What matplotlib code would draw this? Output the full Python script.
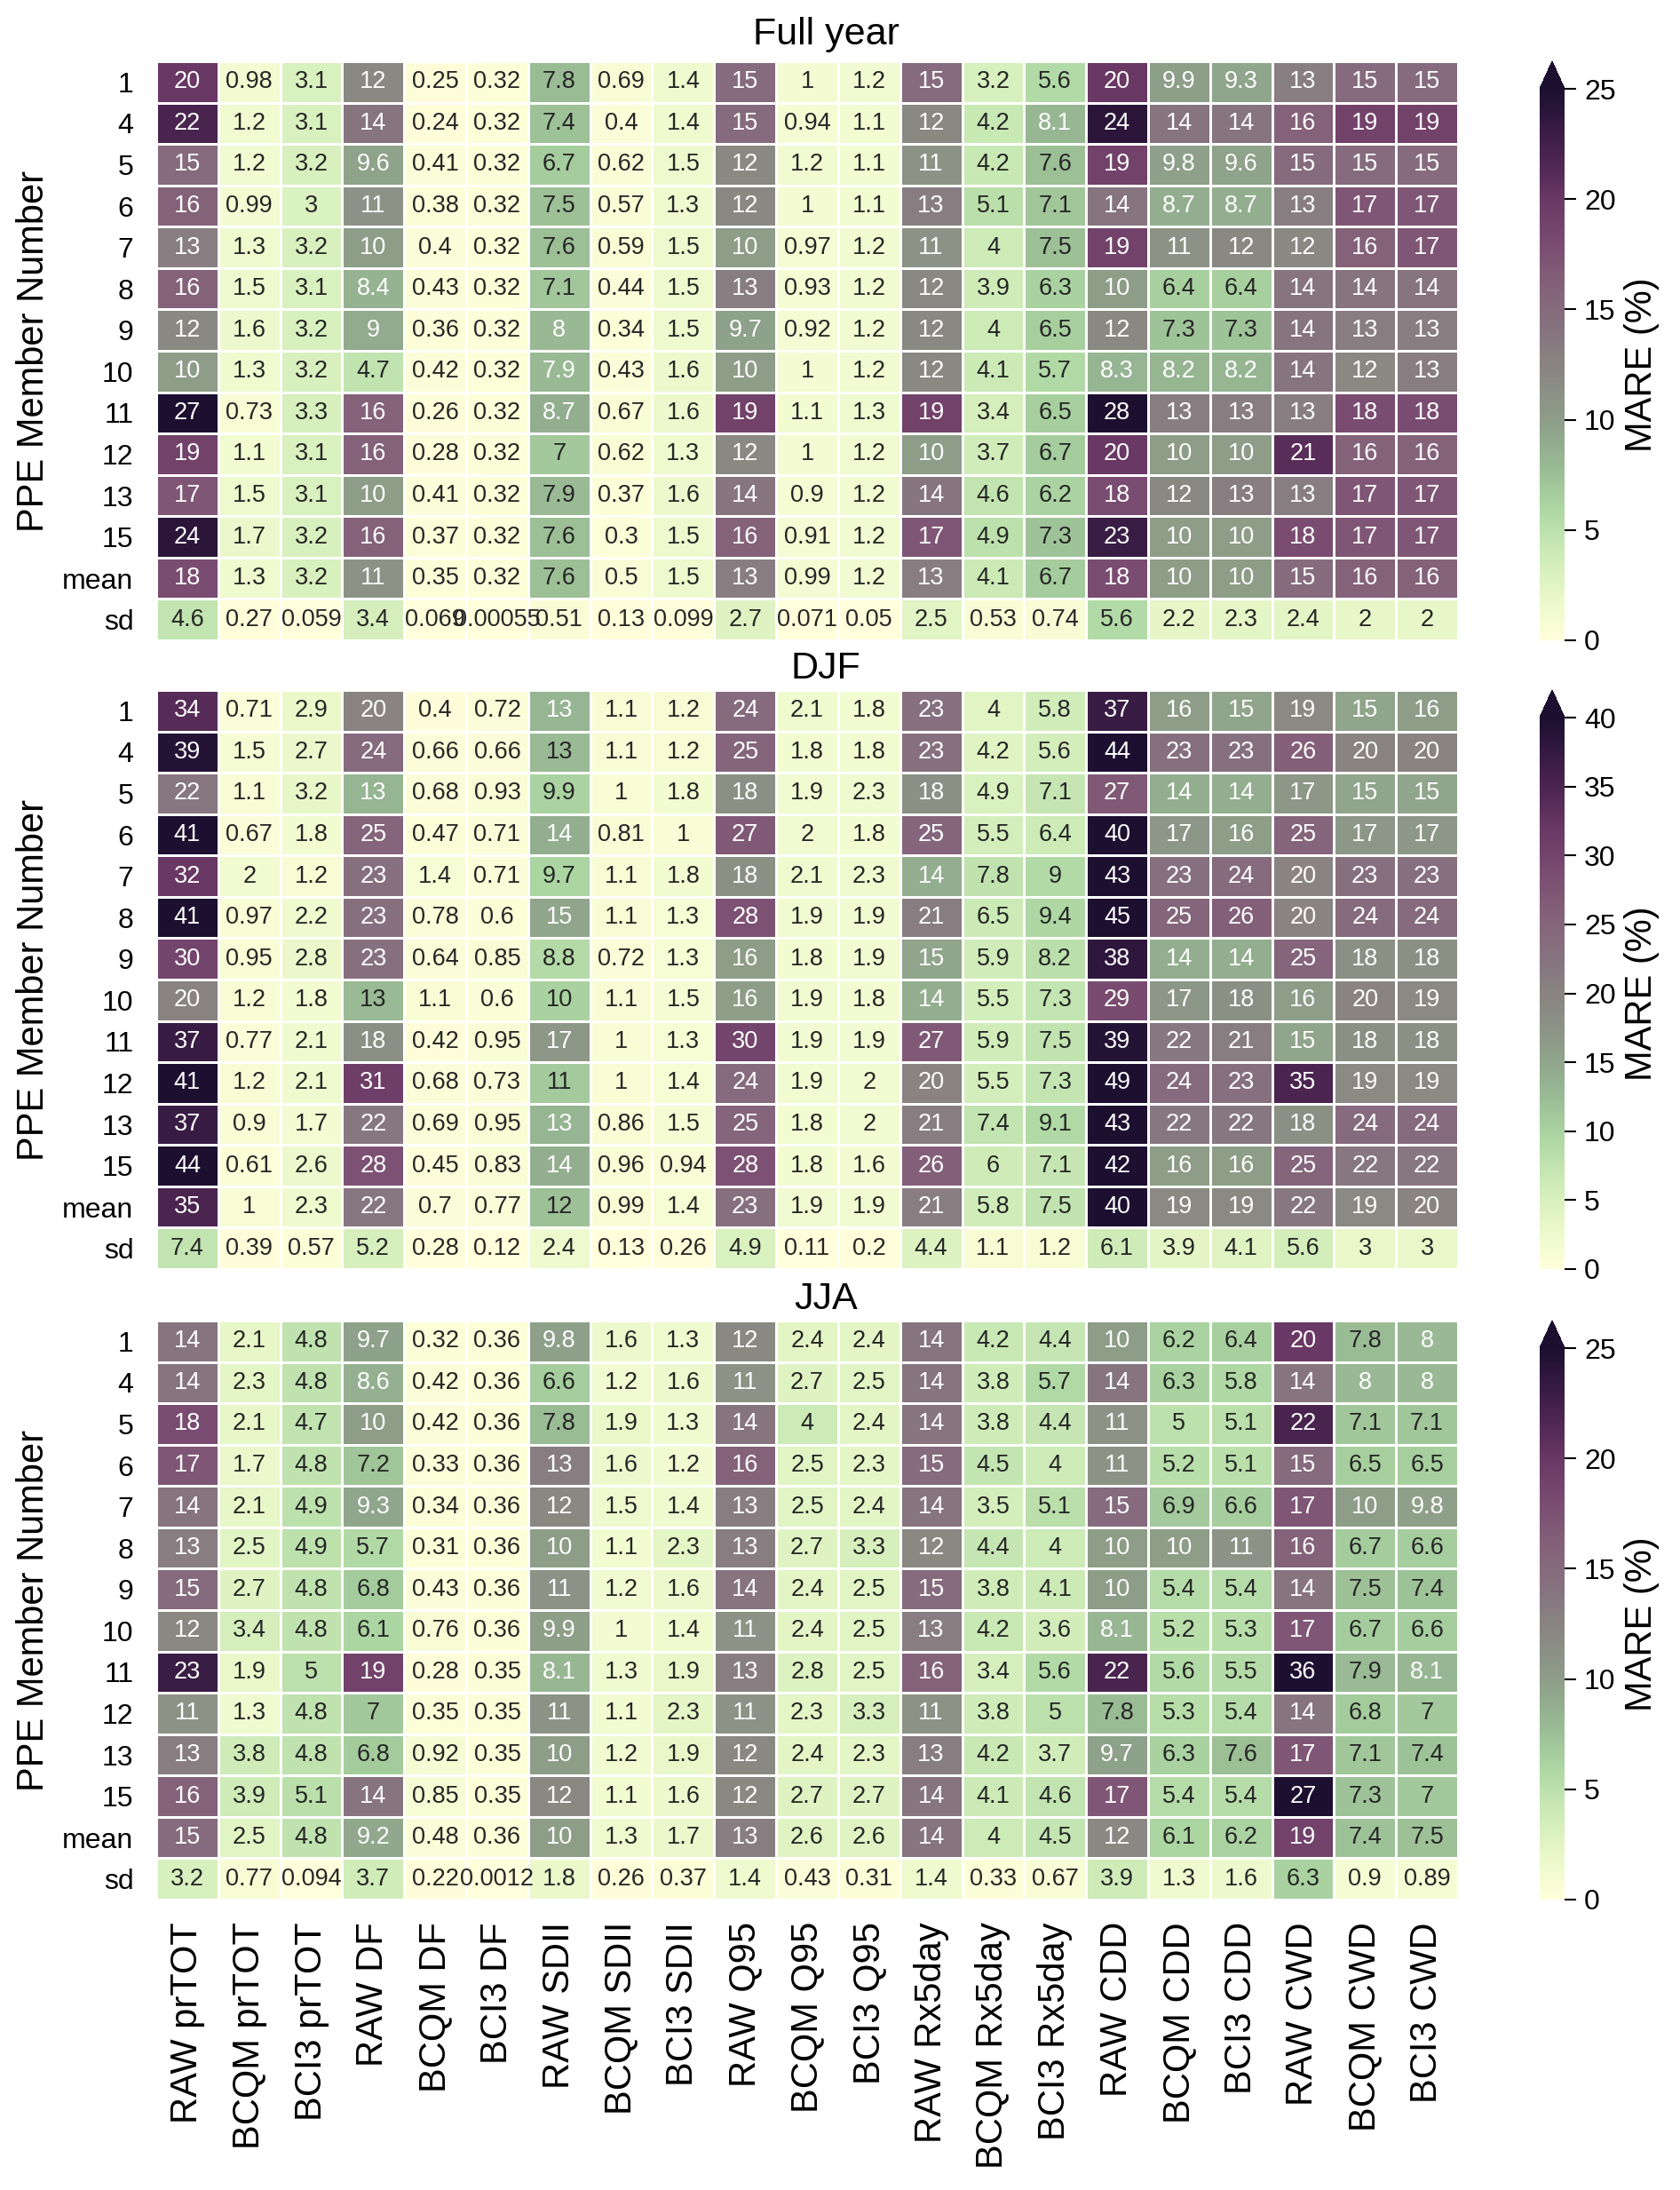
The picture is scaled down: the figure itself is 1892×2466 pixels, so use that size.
import numpy as np
import matplotlib
matplotlib.use("Agg")
import matplotlib.pyplot as plt
from matplotlib.colors import LinearSegmentedColormap, Normalize

plt.rcParams['font.family'] = ['Liberation Sans', 'DejaVu Sans']

rows = ["1", "4", "5", "6", "7", "8", "9", "10", "11", "12", "13", "15", "mean", "sd"]
cols = ["RAW prTOT", "BCQM prTOT", "BCI3 prTOT", "RAW DF", "BCQM DF", "BCI3 DF",
        "RAW SDII", "BCQM SDII", "BCI3 SDII", "RAW Q95", "BCQM Q95", "BCI3 Q95",
        "RAW Rx5day", "BCQM Rx5day", "BCI3 Rx5day", "RAW CDD", "BCQM CDD", "BCI3 CDD",
        "RAW CWD", "BCQM CWD", "BCI3 CWD"]

full_year = [
    [20, 0.98, 3.1, 12, 0.25, 0.32, 7.8, 0.69, 1.4, 15, 1, 1.2, 15, 3.2, 5.6, 20, 9.9, 9.3, 13, 15, 15],
    [22, 1.2, 3.1, 14, 0.24, 0.32, 7.4, 0.4, 1.4, 15, 0.94, 1.1, 12, 4.2, 8.1, 24, 14, 14, 16, 19, 19],
    [15, 1.2, 3.2, 9.6, 0.41, 0.32, 6.7, 0.62, 1.5, 12, 1.2, 1.1, 11, 4.2, 7.6, 19, 9.8, 9.6, 15, 15, 15],
    [16, 0.99, 3, 11, 0.38, 0.32, 7.5, 0.57, 1.3, 12, 1, 1.1, 13, 5.1, 7.1, 14, 8.7, 8.7, 13, 17, 17],
    [13, 1.3, 3.2, 10, 0.4, 0.32, 7.6, 0.59, 1.5, 10, 0.97, 1.2, 11, 4, 7.5, 19, 11, 12, 12, 16, 17],
    [16, 1.5, 3.1, 8.4, 0.43, 0.32, 7.1, 0.44, 1.5, 13, 0.93, 1.2, 12, 3.9, 6.3, 10, 6.4, 6.4, 14, 14, 14],
    [12, 1.6, 3.2, 9, 0.36, 0.32, 8, 0.34, 1.5, 9.7, 0.92, 1.2, 12, 4, 6.5, 12, 7.3, 7.3, 14, 13, 13],
    [10, 1.3, 3.2, 4.7, 0.42, 0.32, 7.94, 0.43, 1.6, 10, 1, 1.2, 12, 4.1, 5.7, 8.3, 8.2, 8.2, 14, 12, 13],
    [27, 0.73, 3.3, 16, 0.26, 0.32, 8.7, 0.67, 1.6, 19, 1.1, 1.3, 19, 3.4, 6.5, 28, 13, 13, 13, 18, 18],
    [19, 1.1, 3.1, 16, 0.28, 0.32, 7, 0.62, 1.3, 12, 1, 1.2, 10, 3.7, 6.7, 20, 10, 10, 21, 16, 16],
    [17, 1.5, 3.1, 10, 0.41, 0.32, 7.86, 0.37, 1.6, 14, 0.9, 1.2, 14, 4.6, 6.2, 18, 12, 13, 13, 17, 17],
    [24, 1.7, 3.2, 16, 0.37, 0.32, 7.6, 0.3, 1.5, 16, 0.91, 1.2, 17, 4.9, 7.3, 23, 10, 10, 18, 17, 17],
    [18, 1.3, 3.2, 11, 0.35, 0.32, 7.6, 0.5, 1.5, 13, 0.99, 1.2, 13, 4.1, 6.7, 18, 10, 10, 15, 16, 16],
    [4.6, 0.27, 0.059, 3.4, 0.069, 0.00055, 0.51, 0.13, 0.099, 2.7, 0.071, 0.05, 2.5, 0.53, 0.74, 5.6, 2.2, 2.3, 2.4, 2, 2],
]

djf = [
    [34, 0.71, 2.9, 20, 0.4, 0.72, 13.2, 1.1, 1.2, 24, 2.1, 1.8, 23, 4, 5.8, 37, 16, 15, 19, 15, 16],
    [39, 1.5, 2.7, 24, 0.66, 0.66, 12.6, 1.1, 1.2, 25, 1.8, 1.8, 23, 4.2, 5.6, 44, 23, 23, 26, 20, 20],
    [22, 1.1, 3.2, 13.2, 0.68, 0.93, 9.9, 1, 1.8, 18, 1.9, 2.3, 18, 4.9, 7.1, 27, 14, 14, 17, 15, 15],
    [41, 0.67, 1.8, 25, 0.47, 0.71, 14, 0.81, 1, 27, 2, 1.8, 25, 5.5, 6.4, 40, 17, 16, 25, 17, 17],
    [32, 2, 1.2, 23, 1.4, 0.71, 9.7, 1.1, 1.8, 18, 2.1, 2.3, 14, 7.8, 9, 43, 23, 24, 20, 23, 23],
    [41, 0.97, 2.2, 23, 0.78, 0.6, 15, 1.1, 1.3, 28, 1.9, 1.9, 21, 6.5, 9.4, 45, 25, 26, 20, 24, 24],
    [30, 0.95, 2.8, 23, 0.64, 0.85, 8.8, 0.72, 1.3, 16, 1.8, 1.9, 15, 5.9, 8.2, 38, 14, 14, 25, 18, 18],
    [20, 1.2, 1.8, 12.6, 1.1, 0.6, 10, 1.1, 1.5, 16, 1.9, 1.8, 14, 5.5, 7.3, 29, 17, 18, 16, 20, 19],
    [37, 0.77, 2.1, 18, 0.42, 0.95, 17, 1, 1.3, 30, 1.9, 1.9, 27, 5.9, 7.5, 39, 22, 21, 15, 18, 18],
    [41, 1.2, 2.1, 31, 0.68, 0.73, 11, 1, 1.4, 24, 1.9, 2, 20, 5.5, 7.3, 49, 24, 23, 35, 19, 19],
    [37, 0.9, 1.7, 22, 0.69, 0.95, 13.2, 0.86, 1.5, 25, 1.8, 2, 21, 7.4, 9.1, 43, 22, 22, 18, 24, 24],
    [44, 0.61, 2.6, 28, 0.45, 0.83, 14, 0.96, 0.94, 28, 1.8, 1.6, 26, 6, 7.1, 42, 16, 16, 25, 22, 22],
    [35, 1, 2.3, 22, 0.7, 0.77, 12, 0.99, 1.4, 23, 1.9, 1.9, 21, 5.8, 7.5, 40, 19, 19, 22, 19, 20],
    [7.4, 0.39, 0.57, 5.2, 0.28, 0.12, 2.4, 0.13, 0.26, 4.9, 0.11, 0.2, 4.4, 1.1, 1.2, 6.1, 3.9, 4.1, 5.6, 3, 3],
]

jja = [
    [14, 2.1, 4.8, 9.7, 0.32, 0.36, 9.8, 1.6, 1.3, 12, 2.4, 2.4, 14, 4.2, 4.4, 10, 6.2, 6.4, 20, 7.8, 8],
    [14, 2.3, 4.8, 8.6, 0.42, 0.36, 6.6, 1.2, 1.6, 11, 2.7, 2.5, 14, 3.8, 5.7, 14, 6.3, 5.8, 14, 8, 8],
    [18, 2.1, 4.7, 10, 0.42, 0.36, 7.8, 1.9, 1.3, 14, 4, 2.4, 14, 3.8, 4.4, 11, 5, 5.1, 22, 7.1, 7.1],
    [17, 1.7, 4.8, 7.2, 0.33, 0.36, 13, 1.6, 1.2, 16, 2.5, 2.3, 15, 4.5, 4, 11, 5.2, 5.1, 15, 6.5, 6.5],
    [14, 2.1, 4.9, 9.3, 0.34, 0.36, 12, 1.5, 1.4, 13, 2.5, 2.4, 14, 3.5, 5.1, 15, 6.9, 6.6, 17, 10, 9.8],
    [13, 2.5, 4.9, 5.7, 0.31, 0.36, 10, 1.1, 2.3, 13, 2.7, 3.3, 12, 4.4, 4, 10, 10, 11, 16, 6.7, 6.6],
    [15, 2.7, 4.8, 6.8, 0.43, 0.36, 11, 1.2, 1.6, 14, 2.4, 2.5, 15, 3.8, 4.1, 10, 5.4, 5.4, 14, 7.5, 7.4],
    [12, 3.4, 4.8, 6.1, 0.76, 0.36, 9.9, 1, 1.4, 11, 2.4, 2.5, 13, 4.2, 3.6, 8.1, 5.2, 5.3, 17, 6.7, 6.6],
    [23, 1.9, 5, 19, 0.28, 0.35, 8.1, 1.3, 1.9, 13, 2.8, 2.5, 16, 3.4, 5.6, 22, 5.6, 5.5, 36, 7.9, 8.1],
    [11, 1.3, 4.8, 7, 0.35, 0.35, 11, 1.1, 2.3, 11, 2.3, 3.3, 11, 3.8, 5, 7.8, 5.3, 5.4, 14, 6.8, 7],
    [13, 3.8, 4.8, 6.8, 0.92, 0.35, 10, 1.2, 1.9, 12, 2.4, 2.3, 13, 4.2, 3.7, 9.7, 6.3, 7.6, 17, 7.1, 7.4],
    [16, 3.9, 5.1, 14, 0.85, 0.35, 12, 1.1, 1.6, 12, 2.7, 2.7, 14, 4.1, 4.6, 17, 5.4, 5.4, 27, 7.3, 7],
    [15, 2.5, 4.8, 9.2, 0.48, 0.36, 10, 1.3, 1.7, 13, 2.6, 2.6, 14, 4, 4.5, 12, 6.1, 6.2, 19, 7.4, 7.5],
    [3.2, 0.77, 0.094, 3.7, 0.22, 0.0012, 1.8, 0.26, 0.37, 1.4, 0.43, 0.31, 1.4, 0.33, 0.67, 3.9, 1.3, 1.6, 6.3, 0.9, 0.89],
]

panels = [("Full year", full_year, 25), ("DJF", djf, 40), ("JJA", jja, 25)]

# light yellow -> green -> grey -> mauve -> dark purple
cmap = LinearSegmentedColormap.from_list("mare", [
    (0.00, "#ffffdb"), (0.08, "#e8f7c8"), (0.16, "#cbeab6"), (0.24, "#acd6a2"),
    (0.32, "#97b893"), (0.40, "#8d9d88"), (0.48, "#8a8883"), (0.56, "#86747f"),
    (0.64, "#84627a"), (0.72, "#7a4c71"), (0.80, "#6a3864"), (0.88, "#4a2450"),
    (1.00, "#1c0f30")])

W, H = 1892, 2466
fig = plt.figure(figsize=(W / 100, H / 100), dpi=100)

tops = [69, 777, 1487]
title_base = [50, 764, 1474]
hm_left, hm_w, hm_h = 176, 1466, 652
cb_left, cb_w = 1734, 28

for k, (name, vals, vmax) in enumerate(panels):
    data = np.array(vals, dtype=float)
    bottom = H - tops[k] - hm_h
    ax = fig.add_axes([hm_left / W, bottom / H, hm_w / W, hm_h / H])
    cax = fig.add_axes([cb_left / W, bottom / H, cb_w / W, hm_h / H])

    norm = Normalize(vmin=0, vmax=vmax)
    mesh = ax.pcolormesh(data, cmap=cmap, norm=norm, edgecolors="white", linewidth=1.0)
    ax.set_xlim(0, data.shape[1])
    ax.set_ylim(data.shape[0], 0)
    for s in ax.spines.values():
        s.set_visible(False)

    for i in range(data.shape[0]):
        for j in range(data.shape[1]):
            v = data[i, j]
            color = "white" if v / vmax > 0.317 else "#262626"
            ax.text(j + 0.5, i + 0.5, format(v, ".2g"), ha="center", va="center",
                    fontsize=19.5, color=color)

    ax.set_yticks(np.arange(len(rows)) + 0.5)
    ax.set_yticklabels(rows, fontsize=23)
    ax.tick_params(axis="y", length=0, pad=18.5)
    ax.set_xticks(np.arange(len(cols)) + 0.5)
    if k == 2:
        ax.set_xticklabels(cols, fontsize=30, rotation=90)
        ax.tick_params(axis="x", length=0, pad=18)
    else:
        ax.set_xticklabels([])
        ax.tick_params(axis="x", length=0)

    cbar = fig.colorbar(mesh, cax=cax, extend="max", ticks=np.arange(0, vmax + 1, 5))
    cbar.outline.set_visible(False)
    cax.tick_params(length=9.4, width=1.5, labelsize=23, pad=6.5)
    cbar.set_label("MARE (%)", fontsize=30, labelpad=7)

    fig.text(930 / W, 1 - title_base[k] / H, name, ha="center", va="baseline", fontsize=31)
    fig.text(38 / W, 1 - (tops[k] + hm_h / 2) / H, "PPE Member Number", rotation=90,
             ha="center", va="center", fontsize=30)

fig.savefig("out.png", dpi=100)
